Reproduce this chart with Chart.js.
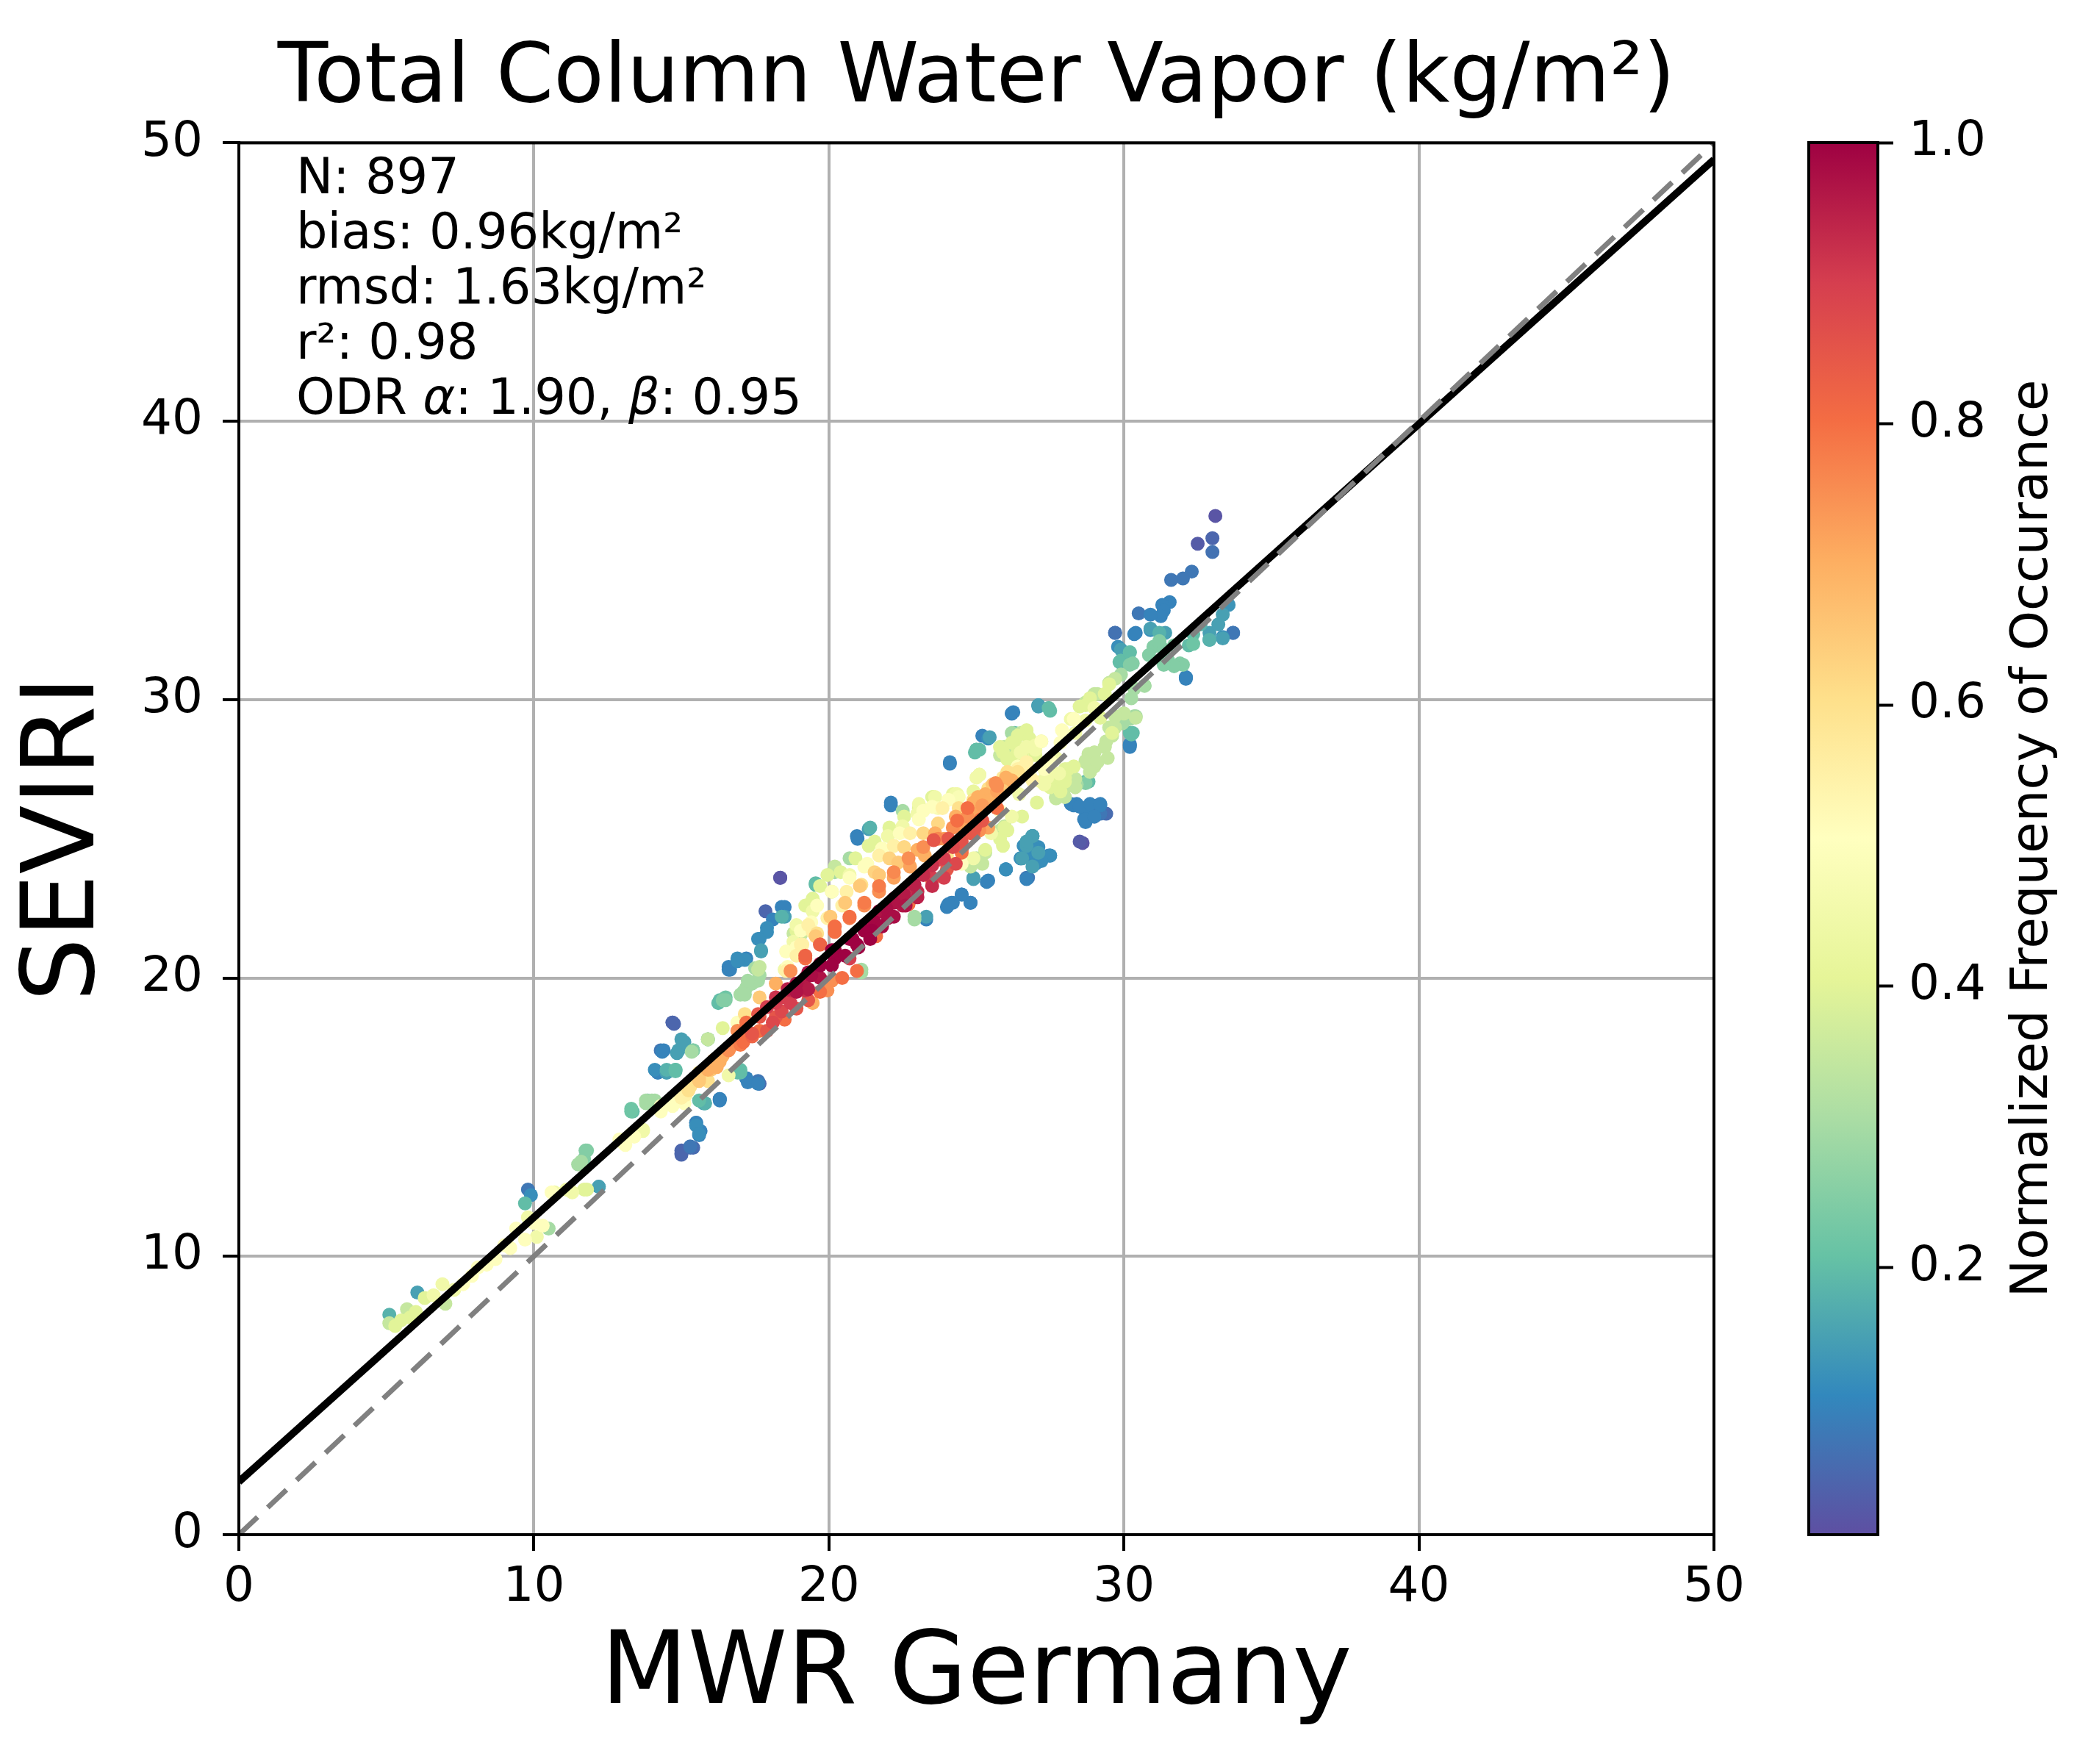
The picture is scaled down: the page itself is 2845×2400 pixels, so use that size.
<!DOCTYPE html>
<html>
<head>
<meta charset="utf-8">
<script src="https://cdn.jsdelivr.net/npm/chart.js@4.4.0/dist/chart.umd.min.js"></script>
<style>
body { margin: 0; background: #fff; }
#main { position: absolute; left: 0; top: 0; }
#cbar { position: absolute; left: 2459px; top: 0; }
</style>
</head>
<body>
<canvas id="main" width="2845" height="2400"></canvas>
<canvas id="cbar" width="386" height="2400"></canvas>
<script>
// axis ranges / ticks
var axisMin = 0, axisMax = 50;
var axisStep = 10;
var cMin = 0.01, cMax = 1.0;
var cbTicks = [0.2, 0.4, 0.6, 0.8, 1.0];

// fit lines
var fitX = [0, 50];
var fitY = [1.90, 49.40];
var oneX = [0, 50];
var oneY = [0, 50];

var statsLines = [
	[['N: 897', false]],
	[['bias: 0.96kg/m\u00b2', false]],
	[['rmsd: 1.63kg/m\u00b2', false]],
	[['r\u00b2: 0.98', false]],
	[['ODR ', false], ['\u03b1', true], [': 1.90, ', false], ['\u03b2', true], [': 0.95', false]]
];

// scatter points [MWR, SEVIRI, normalized density]
var tailPoints = [
	[5.1,7.6,0.35],[5.1,7.9,0.18],[5.3,7.5,0.4],[5.7,8.1,0.35],[6.05,8.7,0.15],[6.3,8.5,0.4],[5.8,7.8,0.4],
	[6.9,9.0,0.45],[7.0,8.3,0.35],[7.3,8.8,0.45],[7.9,9.3,0.5],[8.4,9.7,0.5],[8.7,9.9,0.5],[9.2,10.3,0.5],
	[9.4,11.0,0.5],[9.7,10.6,0.5],[9.8,11.4,0.45],[9.7,11.9,0.2],[9.8,12.4,0.08],[9.9,12.2,0.12],
	[10.3,11.1,0.5],[10.5,11.0,0.3],[10.1,10.7,0.45],[10.7,12.3,0.45],[11.3,12.3,0.45],[11.8,12.4,0.4],
	[12.2,12.5,0.15],[11.7,13.5,0.25],[11.8,13.8,0.25],[11.5,13.3,0.3],[13.0,14.1,0.5],[13.4,14.3,0.5],
	[13.7,14.5,0.45],[13.3,15.2,0.22],[13.8,15.5,0.3],[14.0,15.6,0.3],[14.3,15.2,0.5],[14.7,15.4,0.5],
	[15.0,15.7,0.55],[15.3,16.1,0.6],[15.6,16.4,0.65],[16.0,16.7,0.65],[16.3,17.0,0.7],[16.6,17.4,0.75],
	[17.0,17.6,0.78],[17.4,17.9,0.82],[17.9,18.1,0.85],[18.4,18.8,0.88],[18.5,19.3,0.9],[15.5,14.7,0.12],
	[15.6,14.4,0.12],[15.0,13.7,0.05],[15.4,13.9,0.06],[16.3,15.6,0.1],[15.8,15.5,0.18],[17.0,16.6,0.2],
	[17.2,16.4,0.1],[17.6,16.3,0.08],[14.4,17.4,0.1],[15.0,17.8,0.15],[14.7,18.4,0.05],[14.1,16.7,0.12],
	[14.5,16.7,0.18],[14.8,16.7,0.2],[15.4,17.4,0.22],[15.9,17.8,0.25],[16.3,19.2,0.2],[16.5,19.3,0.22],
	[16.6,20.3,0.1],[17.0,19.4,0.3],[17.4,19.8,0.3],[17.6,20.3,0.35],[18.5,20.3,0.45],[15.1,15.5,0.5],
	[5.5,7.7,0.4],[6.0,8.0,0.4],[6.6,8.6,0.45],[7.6,9.0,0.5],[8.1,9.6,0.5],[9.0,10.4,0.5],[10.0,11.2,0.5]
];

var lowerBand = [
	[10.6,12.3,0.5],[11.1,12.4,0.45],[11.7,12.4,0.4],[12.2,12.5,0.15],[11.75,13.8,0.25],[11.6,13.4,0.3],
	[12.9,14.2,0.5],[13.3,14.4,0.5],[13.7,14.55,0.45],[13.1,14.0,0.5],[13.3,15.3,0.22],[13.8,15.6,0.3],
	[14.1,15.6,0.3],[14.3,15.4,0.5],[14.7,15.6,0.5],[15.15,15.8,0.55],[14.2,16.6,0.1],[14.5,16.6,0.15],
	[14.8,16.7,0.2],[14.3,17.4,0.08],[14.9,17.4,0.15],[15.1,17.7,0.15],[15.4,17.4,0.25],[15.9,17.8,0.25],
	[14.7,18.4,0.04],[15.6,15.6,0.2],[15.8,15.5,0.18],[16.3,15.65,0.1],[15.5,14.8,0.1],[15.65,14.5,0.1],
	[15.3,13.9,0.06],[15.0,13.8,0.05],[17.0,16.7,0.2],[17.2,16.4,0.1],[17.65,16.2,0.06],[14.3,15.25,0.5],
	[15.24,15.96,0.6],[15.6,16.3,0.65],[15.9,16.7,0.7],[16.4,17.2,0.7],[16.6,17.5,0.65],[16.9,18.1,0.75],
	[17.2,18.4,0.8],[17.6,18.7,0.85],[17.9,18.95,0.9],[18.2,19.3,0.92],[18.6,19.6,0.95],[18.9,19.8,0.97],
	[19.3,20.2,0.98],[19.7,20.5,1.0],[20.1,21.0,1.0],[17.1,17.7,0.8],[17.4,18.0,0.85],[18.1,18.4,0.88],
	[18.5,18.5,0.8],[18.9,18.9,0.85],[19.3,19.2,0.85],[19.7,19.5,0.8],[20.1,19.9,0.75],[16.2,16.8,0.7],
	[15.9,16.3,0.6],[16.6,16.5,0.45],[15.9,17.8,0.3],[16.4,18.2,0.4],[16.9,18.4,0.5],[17.2,19.65,0.3],
	[17.65,20.4,0.35],[17.6,19.9,0.3],[17.1,19.5,0.3],[16.4,19.2,0.25],[16.6,20.4,0.1],[16.9,20.7,0.12],
	[17.2,20.7,0.1],[17.7,21.0,0.15],[17.65,21.4,0.12],[17.9,21.8,0.12],[18.8,21.6,0.35],[18.6,20.4,0.5],
	[18.9,20.8,0.55],[19.1,21.2,0.55],[19.6,21.6,0.6],[19.3,21.9,0.55]
];

var corePoints = [
	[26.2,29.5,0.1],[27.1,29.8,0.12],[27.5,29.6,0.2],[32.1,30.8,0.1],[30.2,28.35,0.1],[30.2,28.8,0.2],
	[25.2,28.7,0.1],[25.4,28.6,0.12],[25.0,28.2,0.2],[24.1,27.7,0.1],[26.3,28.5,0.35],[26.7,28.8,0.35],
	[26.9,28.4,0.4],[25.9,28.2,0.35],[26.55,28.1,0.4],[27.2,28.5,0.4],[28.7,29.8,0.4],[29.0,30.2,0.35],
	[29.2,29.35,0.4],[29.6,28.8,0.4],[28.3,29.3,0.5],[30.0,29.5,0.35],[30.4,29.35,0.35],[28.8,28.05,0.35],
	[29.35,28.3,0.35],[29.0,27.6,0.35],[28.1,27.5,0.4],[28.3,26.9,0.35],[27.95,26.6,0.35],[28.7,27.0,0.25],
	[28.7,27.8,0.35],[27.7,27.9,0.45],[27.3,27.5,0.5],[26.9,27.1,0.55],[28.3,26.2,0.1],[28.7,26.05,0.1],
	[29.1,26.2,0.08],[29.2,25.9,0.08],[28.65,25.7,0.1],[28.5,24.9,0.03],[26.9,25.1,0.15],[26.7,24.75,0.15],
	[27.1,24.5,0.15],[27.5,24.4,0.12],[26.55,24.3,0.15],[26.9,24.0,0.15],[26.7,23.55,0.1],[26.0,23.9,0.12],
	[25.35,23.45,0.1],[24.9,23.55,0.15],[24.5,23.0,0.1],[24.8,22.7,0.1],[24.15,22.7,0.1],[24.0,22.55,0.1],
	[23.3,22.1,0.1],[22.9,22.1,0.3],[25.0,24.3,0.35],[25.3,24.5,0.35],[24.8,24.0,0.35],[25.8,25.0,0.4],
	[26.05,25.3,0.4],[26.55,25.8,0.4],[27.05,26.3,0.4],[27.6,26.9,0.4],[27.8,27.35,0.45],[24.5,25.0,0.55],
	[24.0,24.4,0.6],[22.1,26.2,0.1],[20.95,25.1,0.1],[21.35,25.35,0.15],[20.7,24.3,0.3],[21.35,24.75,0.4],
	[22.0,25.1,0.45],[22.5,25.45,0.45],[23.0,25.9,0.45],[23.6,26.5,0.45],[24.3,26.6,0.45],[23.5,26.15,0.5],
	[22.75,25.2,0.55],[22.2,24.75,0.55],[21.7,24.4,0.55],[21.2,24.0,0.5],[20.7,23.7,0.45],[20.2,23.8,0.3],
	[19.55,23.35,0.2],[20.1,23.1,0.4],[20.6,23.1,0.55],[21.1,23.35,0.6],[21.7,23.7,0.65],[22.35,24.15,0.65],
	[23.0,24.6,0.7],[23.6,25.2,0.7],[24.3,25.8,0.7],[24.9,26.3,0.7],[25.3,26.6,0.7],[25.65,27.0,0.75],
	[26.2,27.35,0.55],[26.4,27.6,0.5],[25.1,27.3,0.45],
	[25.15,25.7,0.8],[24.8,25.2,0.85],[24.3,24.75,0.85],[23.75,24.25,0.88],[23.25,23.8,0.9],[22.75,23.35,0.92],
	[22.2,22.85,0.95],[21.7,22.4,0.97],[21.2,21.9,0.98],[20.7,21.4,1.0],[20.2,20.95,1.0],[19.7,20.5,0.98],
	[19.2,20.0,0.96],[18.7,19.55,0.93],[18.2,19.1,0.9],[17.65,18.6,0.85],[17.15,18.1,0.8],[16.65,17.5,0.75],
	[16.1,17.05,0.7],[15.6,16.6,0.6],[20.95,21.2,1.0],[21.45,21.7,1.0],[22.0,22.15,0.98],[22.5,22.6,0.96],
	[23.0,23.1,0.93],[23.5,23.6,0.9],[24.0,23.9,0.85],[24.5,24.5,0.8],[20.2,20.7,1.0],[19.7,20.0,0.97],
	[19.2,19.55,0.93],[18.7,19.1,0.9],[18.2,18.6,0.85],[17.65,18.1,0.8],[20.7,20.7,0.9],[20.95,20.25,0.8],
	[20.45,20.0,0.8],[19.95,19.55,0.75],[19.45,19.1,0.7],[21.1,20.2,0.3],
	[20.2,21.65,0.8],[19.7,21.2,0.82],[19.2,20.7,0.8],[20.7,22.15,0.78],[21.2,22.6,0.75],[21.7,23.1,0.75],
	[22.2,23.6,0.72],[22.75,24.0,0.72],[23.25,24.4,0.7],[23.9,25.0,0.72],[24.5,25.45,0.72],[25.0,25.9,0.72],
	[25.5,26.4,0.7],[26.0,26.85,0.65],[18.7,20.25,0.75],[18.2,19.8,0.7],[17.65,19.3,0.65],[17.15,18.7,0.6],
	[19.95,22.15,0.55],[19.45,21.65,0.55],[19.05,21.2,0.55],[20.45,22.6,0.55],[19.45,22.4,0.45],[18.9,21.9,0.45],
	[19.2,22.6,0.4],[19.95,23.7,0.4],[20.2,24.0,0.35],[19.45,22.85,0.4],[18.8,21.3,0.45],[18.55,20.95,0.5],
	[18.55,20.25,0.55],
	[18.35,23.6,0.02],[17.85,22.4,0.05],[18.4,22.55,0.1],[18.1,22.1,0.1],[18.5,22.2,0.15],[17.9,21.65,0.12],
	[17.6,21.4,0.12],[17.7,20.95,0.15],[17.15,20.65,0.12],[16.9,20.6,0.12],[16.65,20.3,0.1],[17.5,20.35,0.3],
	[17.65,20.1,0.3],[17.25,19.9,0.3],[17.15,19.4,0.3],[16.5,19.2,0.25],[16.25,19.1,0.2],[19.45,22.6,0.3],
	[19.05,21.55,0.35],
	[14.75,18.35,0.05],[14.35,17.35,0.1],[15.05,17.65,0.15],[14.85,17.3,0.15],[15.35,17.35,0.3],[15.9,17.8,0.35],
	[14.2,16.6,0.1],[14.5,16.6,0.15],[14.8,16.65,0.2],[13.85,15.6,0.2],[13.35,15.2,0.2],[16.9,16.6,0.2],
	[17.25,16.25,0.1],[17.6,16.2,0.1],[16.3,15.65,0.1],[15.75,15.5,0.15],[15.5,14.8,0.1],[15.6,14.35,0.1],
	[15.3,13.95,0.08],[15.0,13.65,0.05]
];

var denseCore = [
	[18.9,19.5,0.97],[19.4,20.1,0.98],[19.7,20.45,1.0],[20.2,21.0,1.0],[20.8,21.4,1.0],[21.2,21.7,1.0],
	[21.55,22.0,0.99],[21.95,22.5,0.98],[22.2,22.7,0.97],[22.55,23.0,0.96],[22.9,23.35,0.95],[23.2,23.7,0.93],
	[23.5,24.05,0.92],[23.9,24.3,0.9],[24.2,24.7,0.88],[24.5,24.9,0.86],[24.9,25.2,0.84],[19.3,19.6,0.96],
	[20.1,20.45,1.0],[21.0,21.1,1.0],[21.8,21.85,0.99],[22.6,22.6,0.97],[23.5,23.3,0.93],[24.3,24.1,0.88],
	[20.55,20.8,1.0],[21.4,21.4,1.0],[22.2,22.2,0.98],[23.0,22.9,0.95],[23.9,23.6,0.9],
	[19.2,20.8,0.82],[19.7,21.2,0.82],[20.2,21.85,0.8],[20.7,22.2,0.8],[21.2,22.7,0.78],[21.7,23.3,0.78],
	[22.2,23.8,0.76],[22.7,24.3,0.75],[23.2,24.7,0.75],[23.7,25.0,0.76],[24.2,25.4,0.75],[24.7,25.8,0.75],
	[25.2,26.2,0.73],[25.7,26.7,0.72],[26.2,27.1,0.7],[21.6,21.5,0.8],[22.7,22.65,0.8],[23.5,23.5,0.8],
	[24.5,24.6,0.78],[25.1,25.3,0.75],[25.4,25.4,0.72],
	[19.55,21.5,0.65],[20.05,22.2,0.65],[20.55,22.7,0.65],[21.05,23.3,0.65],[21.55,23.8,0.63],[22.05,24.3,0.63],
	[22.55,24.7,0.62],[23.2,25.2,0.62],[23.7,25.55,0.62],[24.4,26.1,0.6],[24.9,26.4,0.6],[25.4,26.8,0.6],
	[25.9,27.2,0.58],[26.4,27.5,0.55],
	[19.05,21.7,0.5],[19.6,22.6,0.5],[20.1,23.1,0.5],[20.7,23.6,0.5],[21.3,24.1,0.5],[21.8,24.65,0.5],
	[22.4,25.2,0.5],[23.05,25.7,0.5],[23.7,26.1,0.48],[24.4,26.5,0.48],[18.9,21.1,0.5],[18.6,20.35,0.45],
	[19.4,22.0,0.5],
	[18.9,21.7,0.4],[19.4,22.7,0.4],[19.7,23.3,0.4],[20.4,23.8,0.4],[20.9,24.3,0.4],[21.55,24.9,0.4],
	[22.05,25.4,0.4],[22.55,25.8,0.4],[23.05,26.1,0.4],[23.5,26.5,0.4],[24.2,26.6,0.42],[24.9,26.7,0.42],
	[19.55,23.4,0.2],[19.5,22.7,0.3],[20.2,23.9,0.2],[20.97,25.0,0.1],[21.4,25.4,0.18],[22.1,26.3,0.1],
	[22.5,26.0,0.3],[18.35,23.6,0.02],[18.5,22.55,0.1],[18.4,22.2,0.18],
	[25.0,27.2,0.45],[25.8,28.3,0.4],[26.4,28.3,0.4],[27.0,28.0,0.4],[27.6,27.3,0.35],[27.8,26.7,0.35],
	[24.1,27.75,0.1],[25.0,28.2,0.2],
	[25.5,25.2,0.45],[25.95,25.4,0.4],[25.9,24.75,0.4],[25.3,24.6,0.4],[24.9,24.3,0.45],[24.5,24.1,0.5],
	[25.2,24.1,0.35],
	[26.9,25.1,0.12],[26.7,24.6,0.12],[27.1,24.7,0.12],[26.9,24.3,0.12],[27.45,24.4,0.1],[26.5,24.3,0.12],
	[27.0,24.1,0.12],[26.7,23.6,0.08],[26.0,23.9,0.12],[24.9,23.6,0.15],[25.4,23.5,0.1],[24.5,23.0,0.1],
	[24.2,22.7,0.1],[24.8,22.7,0.08],[24.05,22.65,0.1],[23.3,22.2,0.15],[22.9,22.2,0.3],[21.1,20.3,0.3]
];

var upperCloud = [
	[26.4,28.7,0.4],[26.8,28.5,0.4],[26.0,28.3,0.35],[26.5,28.1,0.45],[27.0,28.2,0.45],[26.2,28.8,0.3],
	[26.7,28.9,0.4],[25.9,28.1,0.4],[27.2,28.5,0.5],[27.45,29.7,0.2],[27.1,29.8,0.15],[26.25,29.55,0.1],
	[28.7,29.9,0.35],[29.1,30.2,0.35],[29.5,30.6,0.35],[29.9,30.9,0.3],[28.3,29.3,0.45],[27.9,28.9,0.5],
	[29.7,29.4,0.35],[30.2,29.3,0.3],[30.4,29.4,0.3],[30.3,28.8,0.2],[30.2,28.4,0.1],[29.5,29.0,0.35],
	[29.4,28.5,0.35],[29.0,28.1,0.35],[28.7,27.75,0.35],[28.3,27.6,0.4],[28.0,27.2,0.4],[27.95,26.7,0.35],
	[27.7,26.5,0.3],[28.4,26.95,0.3],[28.8,27.05,0.2],[27.4,27.2,0.45],[27.3,26.95,0.45],
	[28.4,26.25,0.1],[28.7,26.0,0.08],[29.0,25.8,0.08],[29.2,26.2,0.1],[29.4,25.9,0.06],[28.7,25.6,0.1],
	[28.6,24.85,0.02],[26.9,25.1,0.15],[26.6,24.75,0.12],[27.0,24.6,0.12],[26.5,24.3,0.12],[27.2,24.2,0.12],
	[27.5,24.4,0.1],[26.0,23.9,0.1],[26.75,23.6,0.08],
	[29.7,32.4,0.07],[30.4,32.4,0.1],[29.9,31.8,0.15],[30.2,31.7,0.2],[29.9,31.4,0.2],[30.3,31.3,0.25],
	[31.2,32.1,0.25],[31.5,31.4,0.25],[31.9,31.3,0.25],[32.1,30.8,0.1],[32.35,32.0,0.22],[32.9,32.15,0.18],
	[33.35,32.2,0.15],[33.7,32.4,0.08],[30.7,30.5,0.3],[30.9,32.5,0.12],[31.4,32.4,0.15],
	[25.7,26.9,0.75],[26.0,27.2,0.7],[26.4,27.4,0.6],[26.7,27.75,0.55],[25.7,26.1,0.8]
];

var upperPoints = [
	[33.1,36.6,0.02],[33.0,35.8,0.05],[32.5,35.6,0.03],[33.0,35.3,0.07],[32.3,34.6,0.08],[32.0,34.35,0.08],
	[31.6,34.3,0.08],[31.55,33.5,0.1],[31.3,33.4,0.1],[31.35,33.2,0.1],[31.25,33.0,0.1],[30.9,33.05,0.1],
	[30.5,33.1,0.08],[29.7,32.4,0.07],[30.35,32.35,0.1],[30.9,32.55,0.15],[31.2,32.4,0.18],[29.8,31.9,0.12],
	[30.2,31.7,0.2],[29.85,31.35,0.2],[30.2,31.25,0.25],[31.0,31.9,0.25],[31.2,32.05,0.25],[31.35,31.8,0.25],
	[30.85,31.6,0.25],[31.7,31.95,0.25],[32.2,31.95,0.2],[32.35,32.35,0.2],[32.6,32.7,0.18],[32.9,32.4,0.15],
	[33.2,32.7,0.15],[33.35,33.05,0.15],[33.55,33.4,0.13],[33.35,32.25,0.12],[33.7,32.4,0.08],[32.9,32.15,0.15],
	[32.0,31.25,0.25],[31.7,31.2,0.25],[31.35,31.25,0.25],[32.1,30.75,0.1],[30.7,30.5,0.3],[30.35,30.4,0.3],
	[30.25,30.05,0.3],[30.35,29.4,0.3],[30.0,29.5,0.3],[30.25,28.75,0.2],[30.2,28.3,0.1],[29.95,29.15,0.3],
	[29.7,29.0,0.35],[29.6,28.7,0.35],[29.35,28.3,0.35],[29.45,27.9,0.35],[29.0,28.1,0.35],[29.1,27.75,0.35],
	[28.85,27.4,0.35],[28.7,27.05,0.2],[28.35,27.15,0.35],[28.0,27.5,0.4],[27.7,27.2,0.4],[27.85,26.7,0.4],
	[28.0,26.5,0.35],[28.35,26.85,0.35],[28.2,26.25,0.1],[28.5,26.15,0.1],[28.85,26.25,0.1],[29.2,26.25,0.1],
	[28.7,25.7,0.1],[29.0,25.8,0.1],[26.9,25.1,0.15],[26.7,24.9,0.15],[25.95,25.45,0.35],[25.8,25.3,0.35],
	[27.35,27.4,0.45],[27.2,27.05,0.45],[27.5,26.85,0.4],[27.5,27.8,0.5],[27.85,28.45,0.5],[28.35,28.8,0.45],
	[28.7,29.25,0.45],[29.0,29.7,0.45],[28.85,30.05,0.4],[29.35,30.2,0.4],[29.5,30.55,0.4],[29.7,30.75,0.35],
	[28.5,29.75,0.4],[28.2,29.3,0.45],[26.2,29.5,0.08],[27.1,29.75,0.15],[25.45,28.65,0.15],[25.1,28.2,0.2],
	[24.95,28.1,0.2],[26.3,28.8,0.2],[26.5,28.8,0.35],[26.8,28.6,0.4],[25.95,28.3,0.35],[26.2,28.45,0.4],
	[26.7,28.3,0.45],[27.0,28.35,0.45],[26.35,28.0,0.4],[25.8,28.0,0.35],[26.05,27.85,0.4],[25.1,27.3,0.4],
	[23.55,26.5,0.4],[23.05,26.25,0.45],[23.2,26.0,0.5],[24.35,26.6,0.45],[24.05,26.4,0.5],[23.85,26.1,0.55],
	[26.05,27.4,0.6],[26.55,27.55,0.55],[25.55,26.95,0.65],[25.05,26.5,0.7],[24.7,26.1,0.8],[25.2,25.65,0.85],
	[24.95,25.4,0.85],[24.35,25.65,0.8],[23.55,24.95,0.85],[24.05,25.0,0.85],[25.8,26.0,0.5],[26.2,25.8,0.45],
	[25.55,26.6,0.6],[26.45,26.6,0.45],[26.85,27.2,0.5],[27.7,26.45,0.35],[28.0,27.05,0.4]
];

// Spectral_r colour map
var spectralR = ['#5e4fa2','#3288bd','#66c2a5','#abdda4','#e6f598','#ffffbf',
	'#fee08b','#fdae61','#f46d43','#d53e4f','#9e0142'];

var FONT = "'DejaVu Sans', sans-serif";
Chart.defaults.font.family = FONT;
Chart.defaults.color = '#000';

function hexRgb(h) {
	return [parseInt(h.substr(1,2),16), parseInt(h.substr(3,2),16), parseInt(h.substr(5,2),16)];
}

function cmap(v) {
	var t = (v - cMin) / (cMax - cMin);
	t = Math.max(0, Math.min(1, t)) * 10;
	var i = Math.min(9, Math.floor(t));
	var f = t - i;
	var a = hexRgb(spectralR[i]), b = hexRgb(spectralR[i+1]);
	return 'rgb(' + Math.round(a[0]+(b[0]-a[0])*f) + ',' + Math.round(a[1]+(b[1]-a[1])*f) + ',' + Math.round(a[2]+(b[2]-a[2])*f) + ')';
}

// low density first so dense points sit on top
var points = [].concat(tailPoints, lowerBand, corePoints, denseCore, upperCloud, upperPoints).map(function(p) {
	return {x: p[0], y: p[1], d: p[2]};
});
points.sort(function(a, b) { return a.d - b.d; });

var fitLine = fitX.map(function(x, i) { return {x: x, y: fitY[i]}; });
var oneLine = oneX.map(function(x, i) { return {x: x, y: oneY[i]}; });

var framePlugin = {
	id: 'frame',
	afterDatasetsDraw: function(chart) {
		var a = chart.chartArea, ctx = chart.ctx;
		ctx.save();
		ctx.strokeStyle = '#000';
		ctx.lineWidth = 4;
		ctx.strokeRect(a.left, a.top, a.right - a.left, a.bottom - a.top);
		ctx.restore();
	},
	afterDraw: function(chart) {
		var a = chart.chartArea, ctx = chart.ctx;
		ctx.save();
		ctx.fillStyle = '#000';
		ctx.textBaseline = 'alphabetic';
		ctx.textAlign = 'left';
		statsLines.forEach(function(line, i) {
			var x = a.left + 78;
			var y = a.top + 69 + i * 75;
			line.forEach(function(seg) {
				ctx.font = (seg[1] ? 'italic ' : '') + '67px ' + FONT;
				ctx.fillText(seg[0], x, y);
				x += ctx.measureText(seg[0]).width;
			});
		});
		ctx.restore();
	}
};

var tickFont = {family: FONT, size: 66};

var mainChart = new Chart(document.getElementById('main'), {
	type: 'scatter',
	data: {
		datasets: [
			{
				label: '1:1',
				data: oneLine,
				showLine: true,
				borderColor: '#808080',
				borderWidth: 7,
				borderDash: [35, 19],
				pointRadius: 0,
				order: 0
			},
			{
				label: 'ODR',
				data: fitLine,
				showLine: true,
				borderColor: '#000',
				borderWidth: 10,
				pointRadius: 0,
				order: 1
			},
			{
				label: 'points',
				data: points,
				pointRadius: 9.5,
				pointBorderWidth: 0,
				pointBackgroundColor: points.map(function(p) { return cmap(p.d); }),
				borderColor: 'rgba(0,0,0,0)',
				order: 2
			}
		]
	},
	options: {
		responsive: false,
		animation: false,
		devicePixelRatio: 1,
		layout: { padding: { left: 0, right: 513, top: 0, bottom: 0 } },
		plugins: {
			legend: { display: false },
			tooltip: { enabled: false },
			title: {
				display: true,
				fullSize: false,
				text: 'Total Column Water Vapor (kg/m\u00b2)',
				color: '#000',
				font: { family: FONT, size: 112, weight: 'normal', lineHeight: 1.2 },
				padding: { top: 42, bottom: 18 }
			}
		},
		scales: {
			x: {
				type: 'linear',
				min: axisMin,
				max: axisMax,
				afterFit: function(s) { s.height = 312; },
				ticks: { stepSize: axisStep, font: tickFont, color: '#000', padding: 11 },
				grid: { color: '#b0b0b0', lineWidth: 4, tickColor: '#000', tickWidth: 4, tickLength: 22 },
				border: { display: true, color: '#000', width: 4 },
				title: {
					display: true,
					text: 'MWR Germany',
					color: '#000',
					font: { family: FONT, size: 137, lineHeight: 1.2 },
					padding: { top: 0, bottom: 36 }
				}
			},
			y: {
				type: 'linear',
				min: axisMin,
				max: axisMax,
				afterFit: function(s) { s.width = 325; },
				ticks: { stepSize: axisStep, font: tickFont, color: '#000', padding: 27 },
				grid: { color: '#b0b0b0', lineWidth: 4, tickColor: '#000', tickWidth: 4, tickLength: 22 },
				border: { display: true, color: '#000', width: 4 },
				title: {
					display: true,
					text: 'SEVIRI',
					color: '#000',
					font: { family: FONT, size: 137, lineHeight: 1.2 },
					padding: { top: 9, bottom: 0 }
				}
			}
		}
	},
	plugins: [framePlugin]
});

var colorbarPlugin = {
	id: 'colorbar',
	beforeDatasetsDraw: function(chart) {
		var a = chart.chartArea, ctx = chart.ctx;
		var g = ctx.createLinearGradient(0, a.bottom, 0, a.top);
		spectralR.forEach(function(c, i) { g.addColorStop(i / 10, c); });
		ctx.save();
		ctx.fillStyle = g;
		ctx.fillRect(a.left, a.top, a.right - a.left, a.bottom - a.top);
		ctx.strokeStyle = '#000';
		ctx.lineWidth = 4;
		ctx.strokeRect(a.left + 2, a.top, a.right - a.left - 2, a.bottom - a.top);
		ctx.restore();
	},
	afterDraw: function(chart) {
		var a = chart.chartArea, ctx = chart.ctx;
		ctx.save();
		ctx.translate(308, (a.top + a.bottom) / 2);
		ctx.rotate(-Math.PI / 2);
		ctx.font = '69px ' + FONT;
		ctx.fillStyle = '#000';
		ctx.textAlign = 'center';
		ctx.textBaseline = 'middle';
		ctx.fillText('Normalized Frequency of Occurance', 0, 0);
		ctx.restore();
	}
};

var cbChart = new Chart(document.getElementById('cbar'), {
	type: 'scatter',
	data: { datasets: [] },
	options: {
		responsive: false,
		animation: false,
		devicePixelRatio: 1,
		layout: { padding: { left: 0, right: 0, top: 194, bottom: 312 } },
		plugins: { legend: { display: false }, tooltip: { enabled: false } },
		scales: {
			x: { display: false, min: 0, max: 1 },
			y: {
				position: 'right',
				min: cMin,
				max: cMax,
				afterBuildTicks: function(s) {
					s.ticks = cbTicks.map(function(v) { return {value: v}; });
				},
				afterFit: function(s) { s.width = 290; },
				ticks: {
					font: tickFont,
					color: '#000',
					padding: 21,
					callback: function(v) { return v.toFixed(1); }
				},
				grid: { drawOnChartArea: false, tickLength: 21, tickWidth: 4, tickColor: '#000' },
				border: { display: false }
			}
		}
	},
	plugins: [colorbarPlugin]
});
</script>
</body>
</html>
